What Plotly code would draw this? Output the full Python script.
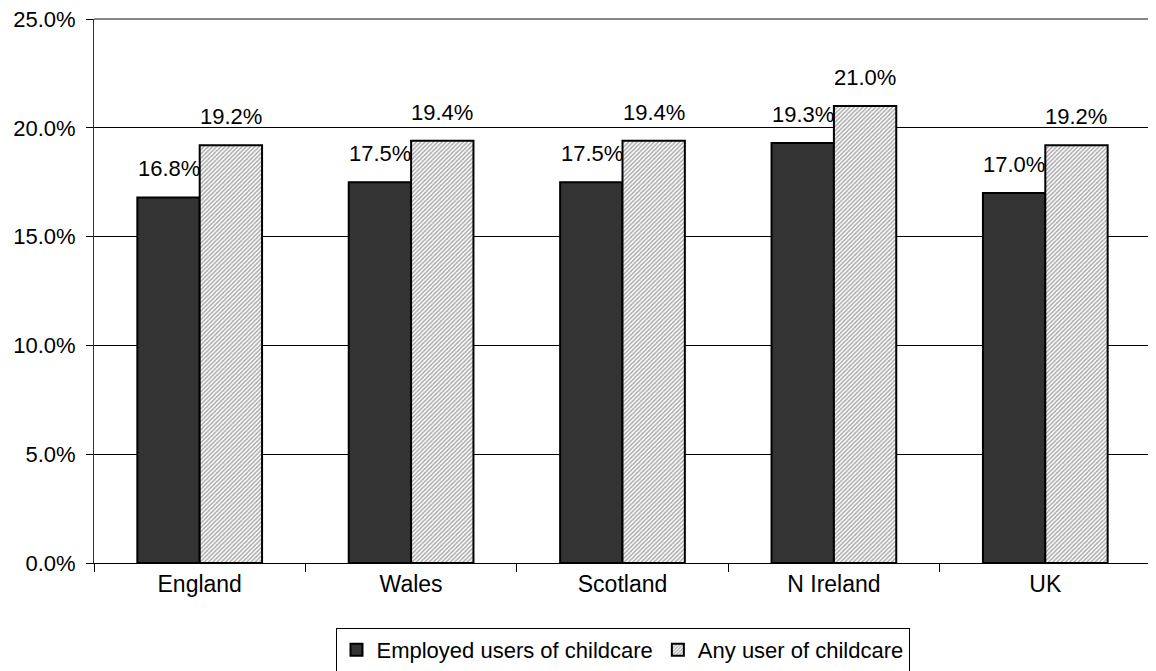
import plotly.graph_objects as go

categories = ["England", "Wales", "Scotland", "N Ireland", "UK"]
employed = [16.8, 17.5, 17.5, 19.3, 17.0]
any_user = [19.2, 19.4, 19.4, 21.0, 19.2]
series_names = ["Employed users of childcare", "Any user of childcare"]

FAM = "Liberation Sans, Arial, sans-serif"
num_font = dict(family=FAM, size=22, color="#000000")
txt_font = dict(family=FAM, size=23, color="#000000")
leg_font = dict(family=FAM, size=22, color="#000000")

fig = go.Figure()
fig.add_trace(go.Bar(
    x=categories, y=employed, name=series_names[0],
    marker=dict(color="#333333", line=dict(color="#000000", width=2)),
))
fig.add_trace(go.Bar(
    x=categories, y=any_user, name=series_names[1],
    marker=dict(color="#ffffff", line=dict(color="#000000", width=2),
                pattern=dict(shape="/", fgcolor="#555555", bgcolor="#ffffff",
                             size=3, solidity=0.5)),
))

# value labels above each bar (offset left/right for grouped bars)
for vals, dx in ((employed, -31), (any_user, 31)):
    for c, v in zip(categories, vals):
        fig.add_annotation(x=c, y=v, xref="x", yref="y", text=f"{v:.1f}%",
                           showarrow=False, xanchor="center", yanchor="bottom",
                           xshift=dx, yshift=14, font=num_font)

# page body has an 8px margin, so margins are compensated
fig.update_layout(
    width=1156, height=671,
    margin=dict(l=86, r=13, t=11, b=116, autoexpand=False),
    paper_bgcolor="white", plot_bgcolor="white",
    font=num_font,
    barmode="group", bargap=0.41, bargroupgap=0,
    showlegend=True,
    legend=dict(orientation="h", x=0.5, y=-0.1195, xanchor="center", yanchor="top",
                bordercolor="#000000", borderwidth=1, font=leg_font,
                itemwidth=30, traceorder="normal", tracegroupgap=0),
)
fig.update_xaxes(
    showline=True, linecolor="#000000", linewidth=1,
    ticks="outside", tickson="boundaries", ticklen=8, tickcolor="#000000",
    showgrid=False, tickfont=txt_font, automargin=False,
)
fig.update_yaxes(
    range=[0, 25], dtick=5, tickformat=".1f", ticksuffix="%",
    showline=True, linecolor="#333333", linewidth=1,
    ticks="outside", ticklen=7, tickcolor="#000000",
    showgrid=True, gridcolor="#000000", gridwidth=1,
    zeroline=False, tickfont=num_font, automargin=False,
    ticklabelstandoff=6, ticklabeloverflow="allow",
)
fig.add_shape(type="line", xref="paper", yref="paper", x0=0, x1=1, y0=1, y1=1,
              line=dict(color="#888888", width=2))

fig.write_html("out.html")
